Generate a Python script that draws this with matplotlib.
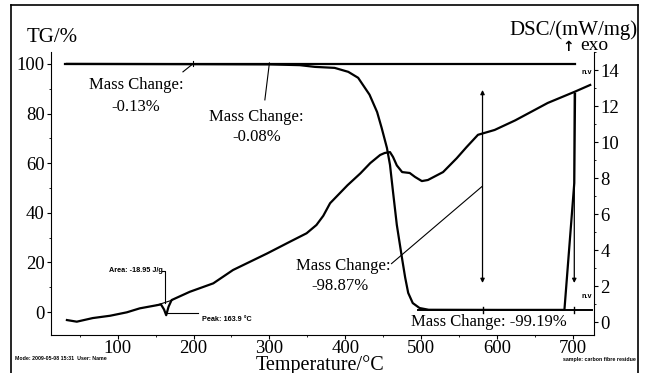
import matplotlib
matplotlib.use('Agg')
import matplotlib.pyplot as plt
from matplotlib.lines import Line2D
from matplotlib.ticker import MultipleLocator

plt.rcParams['font.family'] = ['Liberation Serif', 'DejaVu Sans']

# TG curve (temperature in °C, mass in %)
tg_temp = [33, 200, 300, 340, 360, 386, 404, 417, 432, 442, 448, 455, 459, 463,
           468, 475, 479, 483, 489, 498, 510, 600, 689, 702, 703]
tg_mass = [100, 99.9, 99.8, 99.5, 98.8, 98.4, 96.8, 94.4, 87.6, 80.6, 74.2, 66.1,
           59.3, 48.4, 35.1, 21.4, 13.9, 7.7, 3.6, 1.6, 0.9, 0.85, 0.85, 52, 88]

# DSC curve (mW/mg)
dsc_temp = [33, 46, 67, 90, 112, 129, 151, 157, 161, 163.9, 167, 171, 195, 226,
            252, 297, 327, 349, 362, 371, 380, 403, 420, 433, 446, 452, 459, 463,
            468, 475, 485, 492, 501, 509, 529, 547, 560, 575, 597, 624, 667, 703, 723]
dsc_val = [0.11, 0.02, 0.22, 0.35, 0.54, 0.76, 0.93, 0.98, 0.70, 0.38, 0.85, 1.22,
           1.68, 2.15, 2.89, 3.81, 4.46, 4.93, 5.39, 5.9, 6.6, 7.6, 8.26, 8.83, 9.28,
           9.39, 9.44, 9.17, 8.70, 8.33, 8.28, 8.06, 7.83, 7.89, 8.33, 9.10, 9.72,
           10.4, 10.67, 11.2, 12.17, 12.8, 13.17]

# reference levels of the mass steps
start_mass = 100
end_mass = 100 - 99.19
top_line_t = [30, 703]
end_line_t = [496, 725]
step_temps = [581, 702]

peak_temp = 163.9

fig = plt.figure(figsize=(6.45, 3.73), dpi=100)

# frame around the whole sheet
for xs, ys in [([11, 11], [0, 368]), ([11, 638], [368, 368]), ([638, 638], [368, 0])]:
    fig.add_artist(Line2D([x / 645 for x in xs], [y / 373 for y in ys],
                          color='black', lw=1.2))

ax = fig.add_axes([51 / 645, 1 - 335 / 373, 543 / 645, 283 / 373])
ax2 = ax.twinx()

ax.set_xlim(12, 728)
ax.set_ylim(-9.27, 104.8)
ax2.set_ylim(-0.72, 15.0)

# TG
ax.plot(top_line_t, [start_mass, start_mass], color='black', lw=1.6)
ax.plot(end_line_t, [end_mass, end_mass], color='black', lw=1.4)
ax.plot(tg_temp, tg_mass, color='black', lw=1.6)
for t in step_temps:
    ax.plot([t, t], [end_mass - 1.2, end_mass + 1.2], color='black', lw=1)

# DSC
ax2.plot(dsc_temp, dsc_val, color='black', lw=1.6)

# mass change markers
ax.annotate('', xy=(step_temps[0], 89.5), xytext=(step_temps[0], 11.7),
            arrowprops=dict(arrowstyle='<|-|>', color='black', lw=0.9,
                            mutation_scale=6, shrinkA=0, shrinkB=0))
ax.annotate('', xy=(step_temps[1], 11.7), xytext=(step_temps[1], 88.5),
            arrowprops=dict(arrowstyle='-|>', color='black', lw=0.9,
                            mutation_scale=6, shrinkA=0, shrinkB=0))

ax.plot([186, 199], [96.8, 100], color='black', lw=0.8)
ax.plot([199, 199], [99, 101], color='black', lw=0.8)
ax.plot([294, 300], [85.5, 100.4], color='black', lw=0.8)
ax.plot([461, 580], [19.5, 50.5], color='black', lw=0.8)

fs = 12
ax.text(124, 91.5, 'Mass Change:', ha='center', va='center', fontsize=fs)
ax.text(124, 82.7, '-0.13%', ha='center', va='center', fontsize=fs)
ax.text(283, 78.6, 'Mass Change:', ha='center', va='center', fontsize=fs)
ax.text(283, 70.6, '-0.08%', ha='center', va='center', fontsize=fs)
ax.text(398, 18.5, 'Mass Change:', ha='center', va='center', fontsize=fs)
ax.text(393, 10.5, '-98.87%', ha='center', va='center', fontsize=fs)
ax.text(589, -4.0, 'Mass Change: -99.19%', ha='center', va='center', fontsize=fs)

# DSC peak evaluation
ax2.plot([151, 172], [0.93, 1.22], color='black', lw=0.8)
ax2.plot([159, 162, 162], [2.85, 2.85, 1.05], color='black', lw=0.8)
ax2.plot([peak_temp, 205.6], [0.5, 0.5], color='black', lw=0.8)
small = dict(family=['Liberation Sans', 'DejaVu Sans'], fontsize=5.2,
             fontweight='bold')
tiny = dict(family=['Liberation Sans', 'DejaVu Sans'], fontsize=3.8,
            fontweight='bold')
ax2.text(160, 2.85, 'Area: -18.95 J/g', ha='right', va='center', **small)
ax2.text(211, 0.12, 'Peak: 163.9 °C', ha='left', va='center', **small)

# axes styling
for s in ['top', 'right']:
    ax.spines[s].set_visible(False)
for s in ['top', 'left', 'bottom']:
    ax2.spines[s].set_visible(False)

ax.xaxis.set_major_locator(MultipleLocator(100))
ax.xaxis.set_minor_locator(MultipleLocator(50))
ax.yaxis.set_minor_locator(MultipleLocator(10))
ax2.yaxis.set_minor_locator(MultipleLocator(1))
ax.set_yticks([0, 20, 40, 60, 80, 100])
ax2.set_yticks([0, 2, 4, 6, 8, 10, 12, 14])

for a in (ax, ax2):
    a.tick_params(which='major', direction='out', length=3, width=0.8,
                  labelsize=13.5, pad=1.5)
    a.tick_params(which='minor', direction='out', length=1.5, width=0.6)
ax.tick_params(axis='x', pad=0.5)

# axis titles
fig.text(27 / 645, 1 - 38 / 373, 'TG/%', ha='left', va='center', fontsize=15)
fig.text(637 / 645, 1 - 30 / 373, 'DSC/(mW/mg)', ha='right', va='center', fontsize=15)
fig.text(608 / 645, 1 - 46 / 373, 'exo', ha='right', va='center', fontsize=14)
fig.text(568 / 645, 1 - 47 / 373, '↑', ha='center', va='center', fontsize=10,
         family=['DejaVu Sans'], fontweight='bold')
fig.text(320 / 645, 1 - 365 / 373, 'Temperature/°C', ha='center', va='center',
         fontsize=14.5)

# evaluation markers and footer
fig.text(587 / 645, 1 - 73 / 373, 'n.v', ha='center', va='center', **small)
fig.text(587 / 645, 1 - 296 / 373, 'n.v', ha='center', va='center', **small)
fig.text(15 / 645, 1 - 359 / 373, 'Mode: 2009-05-08 15:31  User: Name',
         ha='left', va='center', **tiny)
fig.text(636 / 645, 1 - 359 / 373, 'sample: carbon fibre residue',
         ha='right', va='center', **tiny)

fig.savefig('out.png', dpi=100)
